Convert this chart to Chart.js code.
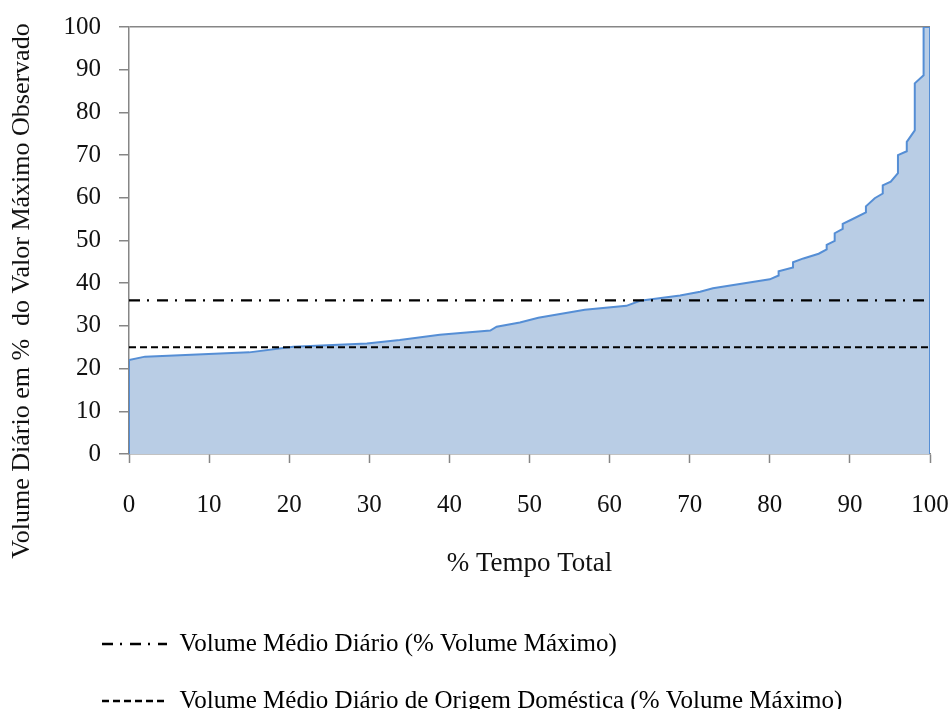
<!DOCTYPE html>
<html>
<head>
<meta charset="utf-8">
<script src="https://cdn.jsdelivr.net/npm/chart.js@4/dist/chart.umd.min.js"></script>
<style>
html,body{margin:0;padding:0;background:#fff;overflow:hidden;}
#wrap{width:950px;height:709px;position:relative;}
</style>
</head>
<body>
<div id="wrap"><canvas id="c"></canvas></div>
<script>
// Duration curve: % of total time (x) vs daily volume in % of max observed (y)
const timePct = [0, 0, 2, 15, 20.5, 29.7, 33.8, 38.8, 45.1, 45.9, 48.8, 51.1, 56.9, 62.1, 63.8, 68.8, 71.3, 72.9, 80.0, 81.1, 81.1, 82.9, 82.9, 84.2, 86.1, 87.1, 87.1, 88.1, 88.1, 89.1, 89.1, 90.1, 92.0, 92.0, 93.1, 94.1, 94.1, 95.1, 96.0, 96.0, 97.1, 97.1, 98.1, 98.1, 99.2, 99.2, 100, 100];
const volumePct = [0, 22, 22.8, 23.8, 25.1, 25.9, 26.7, 27.9, 28.9, 29.8, 30.8, 31.9, 33.8, 34.7, 35.9, 37.1, 38.0, 38.8, 40.9, 41.8, 42.8, 43.7, 44.9, 45.8, 46.9, 47.9, 49.0, 49.9, 51.7, 52.7, 53.9, 54.8, 56.6, 58.0, 59.9, 61.0, 62.9, 63.8, 65.8, 70.0, 70.9, 73.1, 75.8, 86.8, 88.7, 100, 100, 0];
const meanDaily = 36;
const meanDomestic = 25;
const refRange = [0, 100];
const legendLabels = ["Volume Médio Diário (% Volume Máximo)", "Volume Médio Diário de Origem Doméstica (% Volume Máximo)"];
const xTitle = "% Tempo Total";
const yTitle = "Volume Diário em %  do Valor Máximo Observado";

const FONT = "'Liberation Serif', 'Times New Roman', serif";
const AXIS = '#868686';
const TXT = '#111';
const dashDot = [11, 7, 2, 8];
const dashed = [7, 4];

const curve = timePct.map((x, i) => ({x: x, y: volumePct[i]}));

// Layout helpers: indent the legend block, and draw the long rotated y-axis title
// without Chart.js squeezing it to the plot height.
const layoutTweaks = {
  id: 'layoutTweaks',
  afterLayout(chart) {
    if (chart.legend) chart.legend.left = 70;
  },
  afterDraw(chart) {
    const ctx = chart.ctx;
    ctx.save();
    ctx.translate(22, 291);
    ctx.rotate(-Math.PI / 2);
    ctx.font = "26px " + FONT;
    ctx.fillStyle = TXT;
    ctx.textAlign = 'center';
    ctx.textBaseline = 'middle';
    ctx.fillText(yTitle, 0, 0);
    ctx.restore();
  }
};

new Chart(document.getElementById('c'), {
  type: 'line',
  data: {
    datasets: [
      {
        label: 'curve',
        data: curve,
        borderColor: '#558ED5',
        backgroundColor: '#B9CDE5',
        borderWidth: 2,
        fill: 'origin',
        pointRadius: 0,
        tension: 0,
        order: 3
      },
      {
        label: legendLabels[0],
        data: refRange.map(x => ({x: x, y: meanDaily})),
        borderColor: '#000',
        borderWidth: 2.2,
        borderDash: dashDot,
        pointRadius: 0,
        fill: false,
        order: 1
      },
      {
        label: legendLabels[1],
        data: refRange.map(x => ({x: x, y: meanDomestic})),
        borderColor: '#000',
        borderWidth: 2.2,
        borderDash: dashed,
        pointRadius: 0,
        fill: false,
        order: 2
      }
    ]
  },
  plugins: [layoutTweaks],
  options: {
    responsive: true,
    maintainAspectRatio: false,
    animation: false,
    layout: {padding: {left: 0, right: 20, top: 27, bottom: -14.5}},
    plugins: {
      tooltip: {enabled: false},
      legend: {
        display: true,
        position: 'bottom',
        align: 'start',
        labels: {
          font: {family: FONT, size: 25},
          color: TXT,
          padding: 32,
          usePointStyle: true,
          pointStyleWidth: 65,
          boxHeight: 25,
          generateLabels: (chart) => chart.data.datasets.slice(1).map((ds, i) => ({
            text: ds.label,
            fillStyle: '#000',
            strokeStyle: '#000',
            lineWidth: 2.5,
            lineDash: ds.borderDash,
            pointStyle: 'line',
            hidden: false,
            datasetIndex: i + 1
          }))
        }
      }
    },
    scales: {
      x: {
        type: 'linear',
        min: 0, max: 100,
        ticks: {stepSize: 10, font: {family: FONT, size: 25}, color: TXT, padding: 27, maxRotation: 0},
        grid: {drawOnChartArea: false, tickLength: 9, tickColor: AXIS, tickWidth: 1.5},
        border: {color: AXIS, width: 1.5},
        title: {display: true, text: xTitle, font: {family: FONT, size: 27}, color: TXT, padding: {top: 0, bottom: 19.3}},
        afterFit: (s) => { s.height = 145.5; s.paddingLeft = 0; s.paddingRight = 0; }
      },
      y: {
        min: 0, max: 100,
        ticks: {stepSize: 10, font: {family: FONT, size: 25}, color: TXT, padding: 18},
        grid: {
          color: (ctx) => (ctx.tick && ctx.tick.value === 100) ? AXIS : 'rgba(0,0,0,0)',
          lineWidth: 1.5,
          tickLength: 10, tickColor: AXIS, tickWidth: 1.5
        },
        border: {color: AXIS, width: 1.5},
        title: {display: false},
        afterFit: (s) => { s.width = 129; s.paddingTop = 0; s.paddingBottom = 0; }
      }
    }
  }
});
</script>
</body>
</html>
